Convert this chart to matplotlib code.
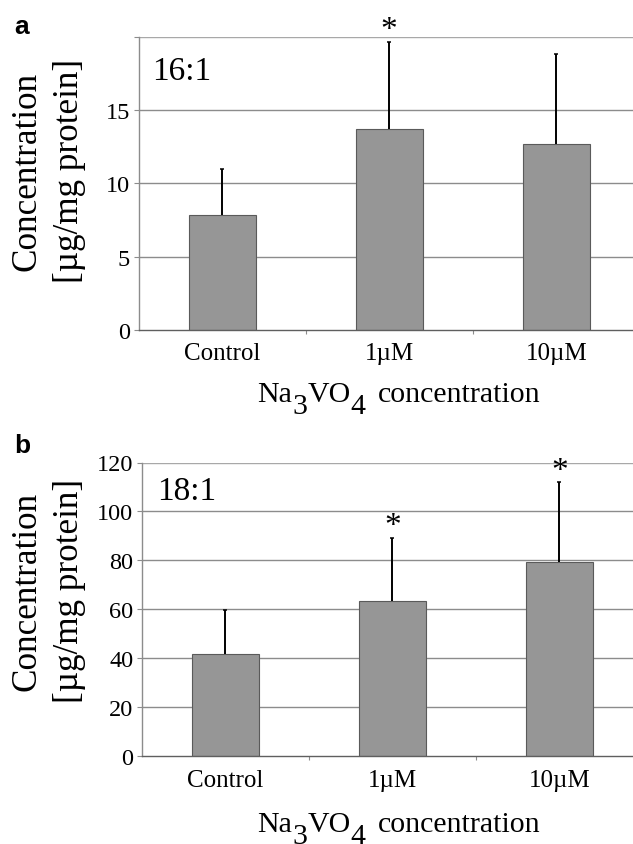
import matplotlib
matplotlib.use("Agg")
import matplotlib.pyplot as plt
import numpy as np

# ---------------- data ----------------
categories = ["Control", "1\u00b5M", "10\u00b5M"]

means_16 = [7.85, 13.7, 12.65]
sd_16 = [3.15, 5.95, 6.2]
sig_16 = [False, True, False]
yticks_16 = [0, 5, 10, 15, 20]
yticklabels_16 = ["0", "5", "10", "15", ""]
ratio_16 = "16:1"

means_18 = [41.9, 63.5, 79.5]
sd_18 = [18.0, 25.8, 32.4]
sig_18 = [False, True, True]
yticks_18 = [0, 20, 40, 60, 80, 100, 120]
yticklabels_18 = ["0", "20", "40", "60", "80", "100", "120"]
ratio_18 = "18:1"

ylabel_lines = ["Concentration", "[\u00b5g/mg protein]"]
panel_letters = ["a", "b"]

# ---------------- style ----------------
SERIF = ["Liberation Serif", "DejaVu Serif"]
SANS = ["Liberation Sans", "DejaVu Sans"]
plt.rcParams["font.family"] = SERIF

W, H = 633, 845
fig = plt.figure(figsize=(W / 100, H / 100), dpi=100)
fig.patch.set_facecolor("white")

BAR = "#969696"
BAR_EDGE = "#5a5a5a"
GRID = "#8c8c8c"


def px_axes(left, top, right, bottom):
    return fig.add_axes([left / W, 1 - bottom / H, (right - left) / W, (bottom - top) / H])


def chem_xlabel(ax, x_px, base_px, fs):
    yb = 1 - base_px / H
    t1 = fig.text(x_px / W, yb, "Na", fontsize=fs, va="baseline", ha="left")
    kw = dict(textcoords="offset points", fontsize=fs, va="baseline", ha="left",
              annotation_clip=False)
    t2 = ax.annotate("3", xy=(1, yb), xycoords=(t1, "figure fraction"), xytext=(0.3, -8.8), **kw)
    t3 = ax.annotate("VO", xy=(1, yb), xycoords=(t2, "figure fraction"), xytext=(0, 0), **kw)
    t4 = ax.annotate("4", xy=(1, yb), xycoords=(t3, "figure fraction"), xytext=(0.3, -8.8), **kw)
    ax.annotate("concentration", xy=(1, yb), xycoords=(t4, "figure fraction"), xytext=(8.6, 0), **kw)


def panel(box, means, sd, sig, yticks, yticklabels, ylim, ratio, ratio_pos,
          ylab_x, ylab_y, xlab_pos, letter, letter_pos):
    ax = px_axes(*box)
    x = np.arange(len(categories))
    ax.set_axisbelow(True)
    ax.bar(x, means, width=0.4, color=BAR, edgecolor=BAR_EDGE, linewidth=0.8, zorder=2)
    eb = ax.errorbar(x, means, yerr=[np.zeros(len(sd)), sd], fmt="none", ecolor="black",
                     elinewidth=1.4, capsize=1.6, capthick=1.1, zorder=3)
    for cap in eb[1]:
        if np.allclose(cap.get_ydata(), means):
            cap.set_visible(False)
    for xi, m, s, flag in zip(x, means, sd, sig):
        if flag:
            ax.annotate("*", xy=(xi, m + s), xytext=(0, 2.5), textcoords="offset points",
                        ha="center", va="baseline", fontsize=24, annotation_clip=False)

    ax.set_xlim(-0.5, 2.5)
    ax.set_ylim(*ylim)
    ax.set_yticks(yticks)
    ax.set_yticklabels(yticklabels)
    ax.set_xticks(x)
    ax.set_xticklabels(categories)
    ax.set_xticks([0.5, 1.5], minor=True)
    ax.yaxis.grid(True, color=GRID, linewidth=1.0)
    gl = ax.get_ygridlines()
    gl[-1].set_color("#a8a8a8")
    gl[0].set_visible(False)

    for s in ("top", "right"):
        ax.spines[s].set_visible(False)
    ax.spines["left"].set_color(GRID)
    ax.spines["left"].set_linewidth(1.0)
    ax.spines["bottom"].set_color("#5f5f5f")
    ax.spines["bottom"].set_linewidth(1.0)

    ax.tick_params(axis="y", length=3.6, width=0.8, color=GRID, pad=2.5, labelsize=17.5)
    ax.tick_params(axis="x", which="major", length=0, pad=9, labelsize=18)
    ax.tick_params(axis="x", which="minor", length=3, width=0.8, color=GRID)

    fig.text(ratio_pos[0] / W, 1 - ratio_pos[1] / H, ratio, fontsize=24, va="baseline", ha="left")

    for i, line in enumerate(ylabel_lines):
        fig.text(ylab_x[i] / W, 1 - ylab_y / H, line, fontsize=25.3, rotation=90,
                 rotation_mode="anchor", ha="center", va="baseline")

    chem_xlabel(ax, xlab_pos[0], xlab_pos[1], 21.5)

    fig.text(letter_pos[0] / W, 1 - letter_pos[1] / H, letter, fontsize=19,
             fontweight="bold", family=SANS, va="baseline", ha="left")
    return ax


panel((138.5, 37.7, 640, 331), means_16, sd_16, sig_16, yticks_16, yticklabels_16, (0, 20),
      ratio_16, (152, 80), (36, 78), 171, (257, 401.7), panel_letters[0], (14, 34))
panel((141.7, 463.5, 643, 757.3), means_18, sd_18, sig_18, yticks_18, yticklabels_18, (0, 120),
      ratio_18, (157, 500), (36, 78), 591, (257, 831.7), panel_letters[1], (14, 453))

fig.savefig("out.png", dpi=100, facecolor="white")
